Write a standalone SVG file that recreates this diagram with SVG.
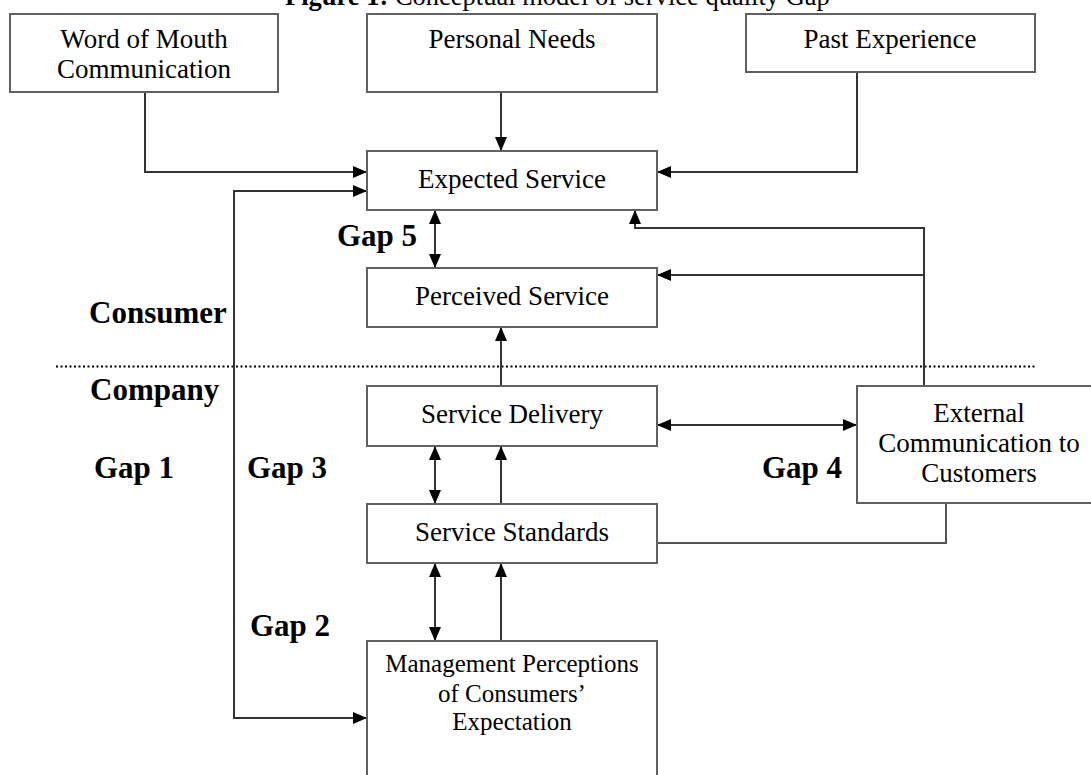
<svg xmlns="http://www.w3.org/2000/svg" width="1091" height="775" viewBox="0 0 1091 775">
<style>
text{font-family:"Liberation Serif","Times New Roman",serif;fill:#000}
.bx{fill:#fff;stroke:#606060;stroke-width:2}
.t{font-size:27px;text-anchor:middle}
.ts{font-size:25px;text-anchor:middle}
.lb{font-size:31px;font-weight:bold}
.ln{fill:none;stroke:#555;stroke-width:2}
.ar{fill:none;stroke:#333;stroke-width:2;marker-end:url(#ah)}
.da{fill:none;stroke:#333;stroke-width:2;marker-end:url(#ah);marker-start:url(#ahs)}
</style>
<defs>
<marker id="ah" markerWidth="14" markerHeight="12" refX="14" refY="6" orient="auto" markerUnits="userSpaceOnUse"><path d="M0,0 L14,6 L0,12 Z" fill="#000"/></marker>
<marker id="ahs" markerWidth="14" markerHeight="12" refX="14" refY="6" orient="auto-start-reverse" markerUnits="userSpaceOnUse"><path d="M0,0 L14,6 L0,12 Z" fill="#000"/></marker>
</defs>
<rect width="1091" height="775" fill="#fff"/>
<text x="285" y="5" font-size="26.5"><tspan font-weight="bold">Figure 1:</tspan> Conceptual model of service quality Gap</text>
<line x1="56" y1="366.5" x2="1036" y2="366.5" stroke="#000" stroke-width="2" stroke-dasharray="2,2.5"/>
<g id="connectors">
<path class="ar" d="M145,92 V172 H367"/>
<path class="ar" d="M501,92 V151"/>
<path class="ar" d="M857,72 V172 H657"/>
<path class="da" d="M367,191 H234 V718 H367"/>
<path class="da" d="M435,210 V268"/>
<path class="ar" d="M501,386 V327"/>
<path class="ar" d="M924,386 V228 H635 V210"/>
<path class="ar" d="M924,275 H657"/>
<path class="da" d="M657,425 H857"/>
<path class="da" d="M435,446 V504"/>
<path class="ar" d="M501,504 V446"/>
<path class="ln" d="M657,543 H946 V503"/>
<path class="da" d="M435,563 V641"/>
<path class="ar" d="M501,641 V563"/>
</g>
<g id="wom"><rect class="bx" x="10" y="14" width="268" height="78"/><text class="t" x="144" y="48">Word of Mouth</text><text class="t" x="144" y="78">Communication</text></g>
<g id="needs"><rect class="bx" x="367" y="14" width="290" height="78"/><text class="t" x="512" y="48">Personal Needs</text></g>
<g id="past"><rect class="bx" x="746" y="14" width="289" height="58"/><text class="t" x="890" y="48">Past Experience</text></g>
<g id="expected"><rect class="bx" x="367" y="151" width="290" height="59"/><text class="t" x="512" y="188">Expected Service</text></g>
<g id="perceived"><rect class="bx" x="367" y="268" width="290" height="59"/><text class="t" x="512" y="305">Perceived Service</text></g>
<g id="delivery"><rect class="bx" x="367" y="386" width="290" height="60"/><text class="t" x="512" y="423">Service Delivery</text></g>
<g id="standards"><rect class="bx" x="367" y="504" width="290" height="59"/><text class="t" x="512" y="541">Service Standards</text></g>
<g id="external"><rect class="bx" x="857" y="386" width="240" height="117"/><text class="t" x="979" y="422">External</text><text class="t" x="979" y="452">Communication to</text><text class="t" x="979" y="482">Customers</text></g>
<g id="management"><rect class="bx" x="367" y="641" width="290" height="150"/><text class="ts" x="512" y="672">Management Perceptions</text><text class="ts" x="512" y="702">of Consumers’</text><text class="ts" x="512" y="730">Expectation</text></g>
<g id="labels">
<text class="lb" x="89" y="323">Consumer</text>
<text class="lb" x="90" y="400">Company</text>
<text class="lb" x="94" y="478">Gap 1</text>
<text class="lb" x="247" y="478">Gap 3</text>
<text class="lb" x="762" y="478">Gap 4</text>
<text class="lb" x="337" y="246">Gap 5</text>
<text class="lb" x="250" y="636">Gap 2</text>
</g>
</svg>
